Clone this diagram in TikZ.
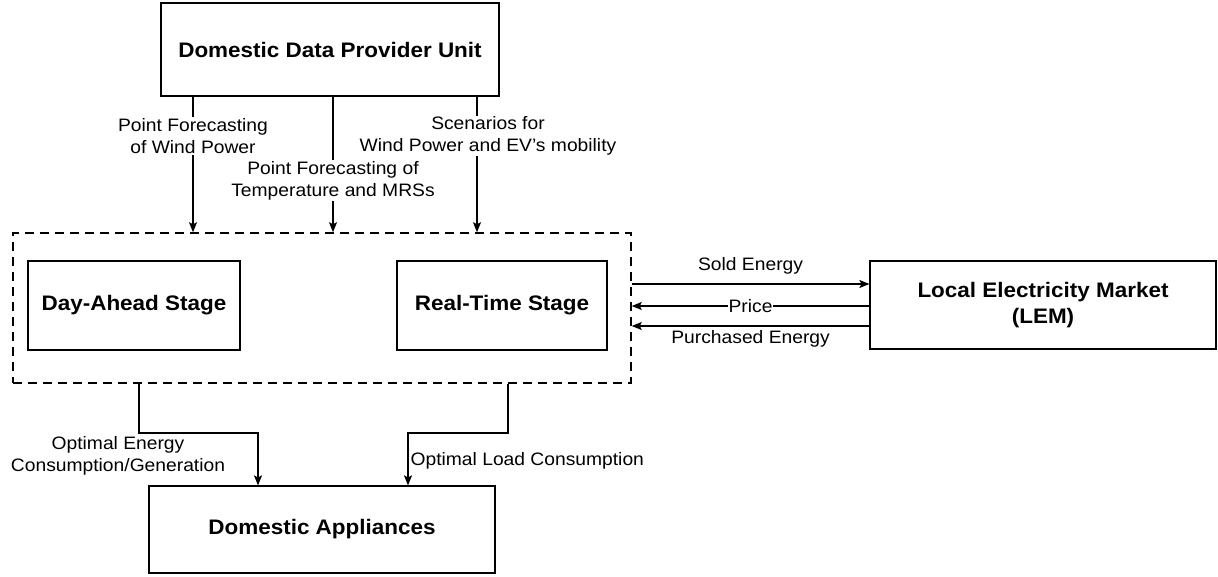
\documentclass[tikz,border=0pt]{standalone}
\usepackage{fontspec}
\setmainfont[FakeStretch=1.07]{Liberation Sans}
\usetikzlibrary{arrows.meta,calc}
\begin{document}
\begin{tikzpicture}[x=1pt,y=-1pt,
  box/.style={draw, line width=1.2pt, inner sep=0pt, align=center, font=\fontsize{21}{26}\selectfont\bfseries},
  lbl/.style={fill=white, inner sep=1pt, align=center, font=\fontsize{18}{22}\selectfont},
  arr/.style={line width=1.2pt, -{Stealth[length=10pt,width=8pt,inset=2pt]}},
]
\useasboundingbox (0,0) rectangle (1218,576);
\fill[white] (0,0) rectangle (1218,576);
% boxes
\node[box, minimum width=338pt, minimum height=93pt] (top) at (330,49.5) {Domestic Data Provider Unit};
\node[draw, line width=1.5pt, dash pattern=on 9pt off 6pt, minimum width=618pt, minimum height=150pt, inner sep=0pt] (stage) at (322,308) {};
\node[box, minimum width=212pt, minimum height=89pt] (da) at (134,305.5) {Day-Ahead Stage};
\node[box, minimum width=210pt, minimum height=89pt] (rt) at (502,305.5) {Real-Time Stage};
\node[box, minimum width=346pt, minimum height=88pt] (lem) at (1043,305) {Local Electricity Market\\(LEM)};
\node[box, minimum width=346pt, minimum height=87pt] (dap) at (322,529.5) {Domestic Appliances};
% helper coordinates
\coordinate (a1) at (193,0);
\coordinate (a2) at (333,0);
\coordinate (a3) at (477,0);
\coordinate (s1) at (0,284);
\coordinate (s2) at (0,306);
\coordinate (s3) at (0,326);
\coordinate (b1) at (139,433);
\coordinate (b2) at (258,433);
\coordinate (b3) at (508,433);
\coordinate (b4) at (408,433);
% top arrows
\draw[arr] (top.south -| a1) -- node[lbl, pos=0.29]{Point Forecasting\\of Wind Power} (stage.north -| a1);
\draw[arr] (top.south -| a2) -- node[lbl, pos=0.62]{Point Forecasting of\\Temperature and MRSs} (stage.north -| a2);
\draw[arr] (top.south -| a3) -- node[lbl, pos=0.29, xshift=11pt]{Scenarios for\\Wind Power and EV's mobility} (stage.north -| a3);
% market arrows
\draw[arr] (stage.east |- s1) -- node[lbl, fill=none, above=8pt]{Sold Energy} (lem.west |- s1);
\draw[arr] (lem.west |- s2) -- node[lbl, inner sep=0.5pt]{Price} (stage.east |- s2);
\draw[arr] (lem.west |- s3) -- node[lbl, fill=none, below=3pt]{Purchased Energy} (stage.east |- s3);
% bottom arrows
\draw[arr] (stage.south -| b1) |- (b2) -- (dap.north -| b2);
\draw[arr] (stage.south -| b3) |- (b4) -- node[lbl, fill=none, anchor=west, pos=0.5, inner sep=2pt, yshift=-2pt]{Optimal Load Consumption} (dap.north -| b4);
\node[lbl, fill=none] (l4) at (118,456) {Optimal Energy\\Consumption/Generation};
\end{tikzpicture}
\end{document}
